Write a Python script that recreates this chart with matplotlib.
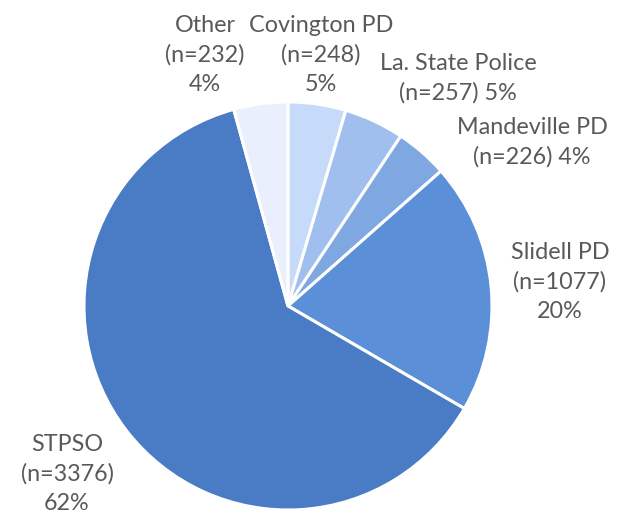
import matplotlib.pyplot as plt

agencies = ['Covington PD', 'La. State Police', 'Mandeville PD',
            'Slidell PD', 'STPSO', 'Other']
counts = [248, 257, 226, 1077, 3376, 232]
colors = ['#C6DAF9', '#A0BFEE', '#7FA8E3', '#5B8FD8', '#4A7BC5', '#E9EFFC']
# whether the percent goes on the same line as the count
same_line = [False, True, True, False, False, False]
# label centres in pixels of the 623x519 picture
label_px = [(321, 55), (458, 78), (532, 142), (560, 282), (67, 474), (205, 55)]

total = sum(counts)
plt.rcParams['font.family'] = ['Lato', 'DejaVu Sans']

fig = plt.figure(figsize=(6.23, 5.19), dpi=100)
cx, cy, r = 288, 306, 204
ax = fig.add_axes([(cx - r) / 623, (519 - cy - r) / 519, 2 * r / 623, 2 * r / 519])
ax.pie(counts, colors=colors, startangle=90, counterclock=False,
       wedgeprops=dict(edgecolor='white', linewidth=2.2))
ax.set_xlim(-1, 1)
ax.set_ylim(-1, 1)

for name, n, same, (px, py) in zip(agencies, counts, same_line, label_px):
    pct = f'{round(100 * n / total)}%'
    if same:
        text = f'{name}\n(n={n}) {pct}'
    else:
        text = f'{name}\n(n={n})\n{pct}'
    ax.text((px - cx) / r, (cy - py) / r, text, ha='center', va='center',
            fontsize=16.8, color='#595959', linespacing=1.45, clip_on=False)

fig.savefig('out.png', dpi=100)
